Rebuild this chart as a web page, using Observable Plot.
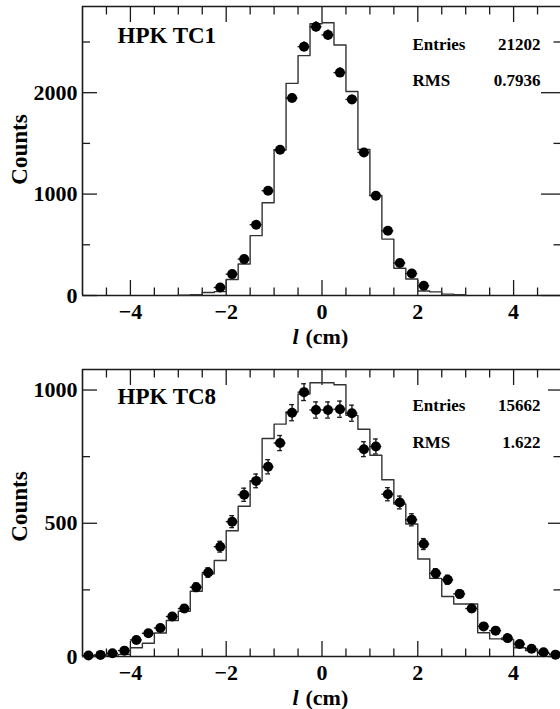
<!DOCTYPE html>
<html><head><meta charset="utf-8">
<script src="https://cdn.jsdelivr.net/npm/d3@7"></script>
<script src="https://cdn.jsdelivr.net/npm/@observablehq/plot@0.6"></script>
<style>
html,body{margin:0;padding:0;background:#fff;}
#chart svg{display:block;}
</style></head><body><div id="chart"></div>
<script>
// ---------- Panel 1 : HPK TC1 ----------
const tc1BinLow = [-3.0,-2.75,-2.5,-2.25,-2.0,-1.75,-1.5,-1.25,-1.0,-0.75,-0.5,-0.25,0.0,0.25,0.5,0.75,1.0,1.25,1.5,1.75,2.0,2.25,2.5,2.75];
const tc1Hist   = [4,8,30,38,158,310,590,915,1435,2092,2366,2680,2690,2470,2012,1440,987,556,268,162,45,36,14,8];
const tc1HistEnd = 3.0;
const tc1PointX = [-2.125,-1.875,-1.625,-1.375,-1.125,-0.875,-0.625,-0.375,-0.125,0.125,0.375,0.625,0.875,1.125,1.375,1.625,1.875,2.125];
const tc1PointY = [79,211,359,698,1033,1438,1948,2454,2650,2570,2198,1934,1411,984,638,320,217,96];

// ---------- Panel 2 : HPK TC8 ----------
const tc8BinLow = [-5.0,-4.75,-4.5,-4.25,-4.0,-3.75,-3.5,-3.25,-3.0,-2.75,-2.5,-2.25,-2.0,-1.75,-1.5,-1.25,-1.0,-0.75,-0.5,-0.25,0.0,0.25,0.5,0.75,1.0,1.25,1.5,1.75,2.0,2.25,2.5,2.75,3.0,3.25,3.5,3.75,4.0,4.25,4.5,4.75];
const tc8Hist   = [2,3,5,8,33,50,88,135,170,245,310,360,472,564,659,818,872,918,985,1027,1027,1020,905,853,755,663,572,497,366,293,225,197,197,89,66,64,33,22,12,8];
const tc8HistEnd = 5.0;
const tc8PointX = [-4.875,-4.625,-4.375,-4.125,-3.875,-3.625,-3.375,-3.125,-2.875,-2.625,-2.375,-2.125,-1.875,-1.625,-1.375,-1.125,-0.875,-0.625,-0.375,-0.125,0.125,0.375,0.625,0.875,1.125,1.375,1.625,1.875,2.125,2.375,2.625,2.875,3.125,3.375,3.625,3.875,4.125,4.375,4.625,4.875];
const tc8PointY = [4,6,12,22,62,87,107,150,180,260,315,412,506,607,659,712,801,915,992,925,925,928,913,778,788,609,578,513,422,312,288,235,180,113,97,69,47,29,16,7];

// ---------- axis ticks / labels ----------
const xMajor = [-4,-2,0,2,4];
const xMinor = [-4.5,-3.5,-3,-2.5,-1.5,-1,-0.5,0.5,1,1.5,2.5,3,3.5,4.5];
const tc1YMajor = [0,1000,2000];
const tc1YMinor = [500,1500,2500];
const tc8YMajor = [0,500,1000];
const tc8YMinor = [250,750];
const xLabelVar = "l";
const xLabelUnit = "(cm)";
const yLabel = "Counts";

const FONT = "'Liberation Serif','Times New Roman',Times,serif";
const INK = "#1a1a1a";
const fmtNum = d => d < 0 ? "\u2212" + Math.abs(d) : String(d);

function panel(o) {
  const hist = [{x: o.binLow[0], y: 0}]
    .concat(o.binLow.map((x, i) => ({x, y: o.hist[i]})))
    .concat([{x: o.histEnd, y: 0}]);
  const pts = o.px.map((x, i) => ({x, y: o.py[i]}));
  const err = d => Math.sqrt(d.y);
  const marks = [
    // frame (left, bottom, top)
    Plot.ruleX([-5], {stroke: INK, strokeWidth: 1.6}),
    Plot.ruleY([0], {stroke: INK, strokeWidth: 1.6}),
    Plot.ruleY([o.yMax], {stroke: INK, strokeWidth: 1.6}),
    // ticks inside
    Plot.axisX({anchor: "bottom", ticks: xMajor, tickSize: -15, fill: "none", stroke: INK, strokeWidth: 1.3, label: null}),
    Plot.axisX({anchor: "bottom", ticks: xMinor, tickSize: -7.5, fill: "none", stroke: INK, strokeWidth: 1.3, label: null}),
    Plot.axisX({anchor: "top", ticks: xMajor, tickSize: -15, fill: "none", stroke: INK, strokeWidth: 1.3, label: null}),
    Plot.axisX({anchor: "top", ticks: xMinor, tickSize: -7.5, fill: "none", stroke: INK, strokeWidth: 1.3, label: null}),
    Plot.axisY({anchor: "left", ticks: o.yMajor, tickSize: -15, fill: "none", stroke: INK, strokeWidth: 1.3, label: null}),
    Plot.axisY({anchor: "left", ticks: o.yMinor, tickSize: -8, fill: "none", stroke: INK, strokeWidth: 1.3, label: null}),
    Plot.axisY({anchor: "right", ticks: o.yMajor, tickSize: -o.rightMajor, fill: "none", stroke: INK, strokeWidth: 1.3, label: null}),
    Plot.axisY({anchor: "right", ticks: o.yMinor, tickSize: -7.5, fill: "none", stroke: INK, strokeWidth: 1.3, label: null}),
    // tick labels
    Plot.axisX({anchor: "bottom", ticks: xMajor, tickSize: 0, tickPadding: 8, stroke: "none", fill: "#000", tickFormat: fmtNum, label: null, fontSize: 22, fontWeight: "bold", fontFamily: FONT}),
    Plot.axisY({anchor: "left", ticks: o.yMajor, tickSize: 0, tickPadding: 5, stroke: "none", fill: "#000", tickFormat: fmtNum, label: null, fontSize: 22, fontWeight: "bold", fontFamily: FONT}),
    // histogram
    Plot.line(hist, {x: "x", y: "y", curve: "step-after", stroke: "#333", strokeWidth: 1.4}),
    // error bars
    Plot.ruleY(pts, {y: "y", x1: d => d.x - 0.125, x2: d => d.x + 0.125, stroke: INK, strokeWidth: 1.4}),
    Plot.ruleX(pts, {x: "x", y1: d => d.y - err(d), y2: d => d.y + err(d), stroke: INK, strokeWidth: 1.4}),
    ...(o.caps ? [
      Plot.ruleY(pts, {y: d => d.y + err(d), x1: d => d.x - 0.05, x2: d => d.x + 0.05, stroke: INK, strokeWidth: 1.3}),
      Plot.ruleY(pts, {y: d => d.y - err(d), x1: d => d.x - 0.05, x2: d => d.x + 0.05, stroke: INK, strokeWidth: 1.3})
    ] : []),
    Plot.dot(pts, {x: "x", y: "y", r: 5, fill: "#000", stroke: "none"}),
    // title
    Plot.text([o.title], {text: d => d, frameAnchor: "top-left", dx: 35, dy: o.titleDy, textAnchor: "start", lineAnchor: "bottom", fontSize: 23, fontWeight: "bold", fontFamily: FONT, fill: "#000"}),
    // stats
    Plot.text(["Entries"], {text: d => d, frameAnchor: "top-left", dx: 330, dy: o.statDy1, textAnchor: "start", lineAnchor: "bottom", fontSize: 17, fontWeight: "bold", fontFamily: FONT, fill: "#000"}),
    Plot.text([o.entries], {text: d => d, frameAnchor: "top-right", dx: -20, dy: o.statDy1, textAnchor: "end", lineAnchor: "bottom", fontSize: 17, fontWeight: "bold", fontFamily: FONT, fill: "#000"}),
    Plot.text(["RMS"], {text: d => d, frameAnchor: "top-left", dx: 330, dy: o.statDy2, textAnchor: "start", lineAnchor: "bottom", fontSize: 17, fontWeight: "bold", fontFamily: FONT, fill: "#000"}),
    Plot.text([o.rms], {text: d => d, frameAnchor: "top-right", dx: -20, dy: o.statDy2, textAnchor: "end", lineAnchor: "bottom", fontSize: 17, fontWeight: "bold", fontFamily: FONT, fill: "#000"}),
    // axis titles
    Plot.text([xLabelVar], {text: d => d, frameAnchor: "bottom", dx: -29, dy: 48, textAnchor: "start", lineAnchor: "bottom", fontSize: 22, fontWeight: "bold", fontStyle: "italic", fontFamily: FONT, fill: "#000"}),
    Plot.text([xLabelUnit], {text: d => d, frameAnchor: "bottom", dx: -16, dy: 48, textAnchor: "start", lineAnchor: "bottom", fontSize: 22, fontWeight: "bold", fontFamily: FONT, fill: "#000"}),
    Plot.text([yLabel], {text: d => d, frameAnchor: "left", dx: -63, dy: o.countsDy, rotate: -90, textAnchor: "middle", lineAnchor: "middle", fontSize: 23, fontWeight: "bold", fontFamily: FONT, fill: "#000"})
  ];
  return Plot.plot({
    width: 560, height: o.height,
    marginLeft: 82, marginRight: 0, marginTop: o.marginTop, marginBottom: o.marginBottom,
    x: {domain: [-5, 5], range: [82, 561]},
    y: {domain: [0, o.yMax]},
    style: {fontFamily: FONT, fontWeight: "bold", fontSize: "22px", color: "#000", background: "#fff", overflow: "visible"},
    marks
  });
}

const chart = document.getElementById("chart");
chart.appendChild(panel({
  binLow: tc1BinLow, hist: tc1Hist, histEnd: tc1HistEnd, px: tc1PointX, py: tc1PointY,
  yMax: 2850, yMajor: tc1YMajor, yMinor: tc1YMinor, rightMajor: 20, caps: false,
  title: "HPK TC1", entries: "21202", rms: "0.7936",
  height: 355, marginTop: 6, marginBottom: 60,
  titleDy: 36.7, statDy1: 43.3, statDy2: 79, countsDy: -1.5
}));
chart.appendChild(panel({
  binLow: tc8BinLow, hist: tc8Hist, histEnd: tc8HistEnd, px: tc8PointX, py: tc8PointY,
  yMax: 1077, yMajor: tc8YMajor, yMinor: tc8YMinor, rightMajor: 13, caps: true,
  title: "HPK TC8", entries: "15662", rms: "1.622",
  height: 354, marginTop: 14, marginBottom: 53,
  titleDy: 34.3, statDy1: 41.7, statDy2: 78.3, countsDy: -6.5
}));
</script></body></html>
